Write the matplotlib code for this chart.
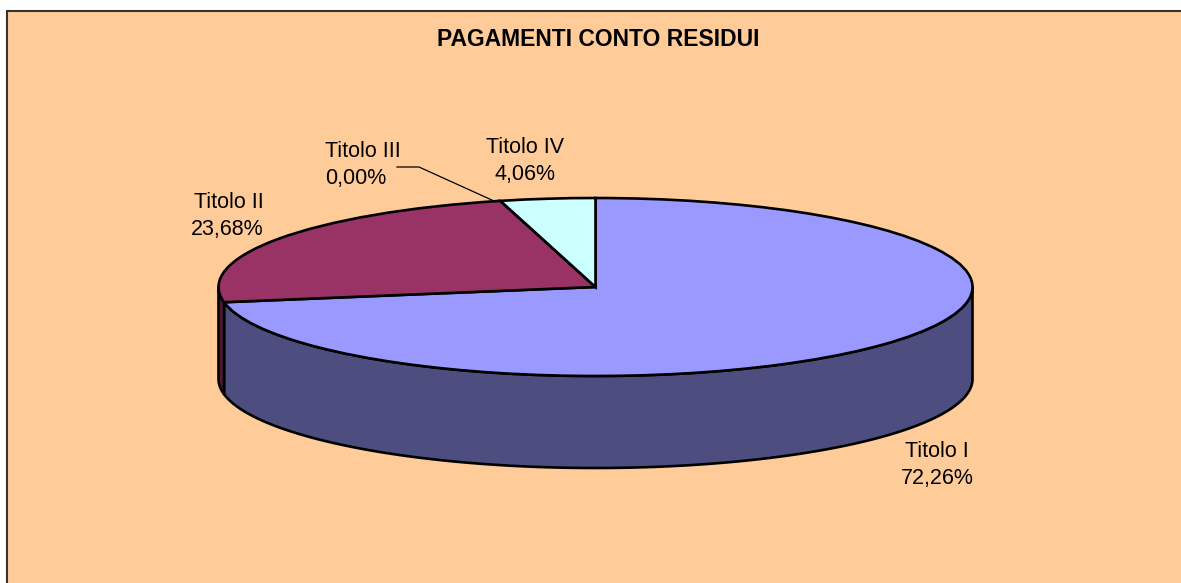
import numpy as np
import matplotlib
matplotlib.use('Agg')
import matplotlib.pyplot as plt
from matplotlib.patches import Rectangle

categories = ['Titolo I', 'Titolo II', 'Titolo III', 'Titolo IV']
values = [72.26, 23.68, 0.00, 4.06]
value_labels = ['72,26%', '23,68%', '0,00%', '4,06%']
top_colors = ['#9999FF', '#993366', '#993366', '#CCFFFF']
side_colors = ['#4D4D80', '#4D1A33', '#4D1A33', '#668080']

plt.rcParams['font.family'] = ['Liberation Sans', 'DejaVu Sans']

W, H = 1181, 583
cx, cy = 595.5, 287
rx, ry = 377, 89
depth = 92
lw = 1.9

fig = plt.figure(figsize=(W / 100, H / 100), dpi=100, facecolor='white')
ax = fig.add_axes([0, 0, 1, 1])
ax.set_xlim(0, W)
ax.set_ylim(H, 0)
ax.axis('off')

# chart area
ax.add_patch(Rectangle((7, 11), W + 20, H + 20, fc='#FFCC99', ec='#333333', lw=1.5, zorder=0))

# side wall, only the front half of the ellipse shows
ends = 90 - np.cumsum(values) * 3.6
starts = np.r_[90, ends[:-1]]
for a, b, col in zip(starts, ends, side_colors):
    lo = max(b, -180)
    hi = min(a, 0)
    if lo >= hi:
        # wraps past -180 degrees
        lo, hi = max(b - 360, -180), min(a - 360, 0)
    if lo >= hi:
        continue
    t = np.radians(np.linspace(hi, lo, 200))
    x = cx + rx * np.cos(t)
    y = cy - ry * np.sin(t)
    xs = np.r_[x, x[::-1]]
    ys = np.r_[y, y[::-1] + depth]
    ax.fill(xs, ys, fc=col, ec='black', lw=lw, zorder=2, joinstyle='round')

# top of the pie in its own axes, squashed into an ellipse
top = fig.add_axes([(cx - rx) / W, 1 - (cy + ry) / H, 2 * rx / W, 2 * ry / H])
top.pie(values, colors=top_colors, startangle=90, counterclock=False, radius=1,
        wedgeprops={'edgecolor': 'black', 'linewidth': lw})
top.set_aspect('auto')
top.set_xlim(-1, 1)
top.set_ylim(-1, 1)
top.patch.set_alpha(0)
for p in top.patches:
    p.set_clip_on(False)

ax.text(598, 40, 'PAGAMENTI CONTO RESIDUI', ha='center', va='center',
        fontsize=16.5, fontweight='bold', color='black')

label_pos = [(937, 465), (264, 216), (325, 165), (525, 161)]
label_align = ['center', 'right', 'left', 'center']
for name, val, (lx, ly), al in zip(categories, value_labels, label_pos, label_align):
    ax.text(lx, ly, name + '\n' + val, ha=al, va='center', multialignment=al,
            fontsize=15.5, color='black', linespacing=1.42)

# leader line for the empty slice
ax.plot([397, 419, 494], [167, 167, 201], color='black', lw=0.9, zorder=3)

fig.savefig('out.png', dpi=100, facecolor='white')
